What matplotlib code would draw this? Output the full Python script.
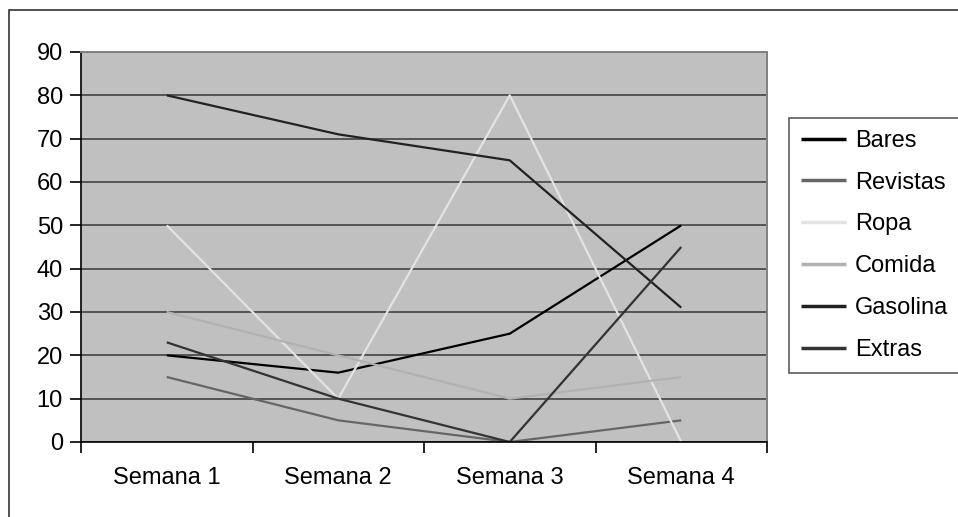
import matplotlib
matplotlib.use('Agg')
import matplotlib.pyplot as plt
from matplotlib.patches import Rectangle

plt.rcParams['font.family'] = ['Liberation Sans', 'DejaVu Sans']

# weekly spending per category
weeks = ['Semana 1', 'Semana 2', 'Semana 3', 'Semana 4']
bares = [20, 16, 25, 50]
revistas = [15, 5, 0, 5]
ropa = [50, 10, 80, 0]
comida = [30, 20, 10, 15]
gasolina = [80, 71, 65, 31]
extras = [23, 10, 0, 45]

series = [
    ('Bares', bares, '#000000'),
    ('Revistas', revistas, '#666666'),
    ('Ropa', ropa, '#e3e3e3'),
    ('Comida', comida, '#b2b2b2'),
    ('Gasolina', gasolina, '#222222'),
    ('Extras', extras, '#333333'),
]

W, H = 958, 517
FS = 17
fig = plt.figure(figsize=(W / 100, H / 100), dpi=100)

# outer chart frame (runs off the right and bottom edges)
fig.patches.append(Rectangle((9 / W, -0.1), 1.2, 1 - 10 / H + 0.1,
                             transform=fig.transFigure, fill=False,
                             edgecolor='#333333', linewidth=1.2))

ax = fig.add_axes([81 / W, (H - 442) / H, 686 / W, 390 / H])
ax.set_facecolor('#c0c0c0')

x = range(len(weeks))
for name, vals, col in series:
    ax.plot(x, vals, color=col, linewidth=1.6, label=name, solid_capstyle='butt')

ax.set_xlim(-0.5, len(weeks) - 0.5)
ax.set_ylim(0, 90)
ax.set_yticks(range(0, 91, 10))
ax.yaxis.grid(True, color='#555555', linewidth=1.4)
ax.set_axisbelow(True)

# category boundaries get the tick marks, names sit between them
ax.set_xticks([i - 0.5 for i in range(len(weeks) + 1)])
ax.set_xticklabels([])
ax.set_xticks(list(x), minor=True)
ax.set_xticklabels(weeks, minor=True)
ax.tick_params(axis='x', which='minor', length=0, pad=18, labelsize=FS)
ax.tick_params(axis='x', which='major', length=8, width=1.2, direction='out')
ax.tick_params(axis='y', length=8, width=1.2, pad=5, labelsize=FS)

for side in ['top', 'right']:
    ax.spines[side].set_color('#808080')
    ax.spines[side].set_linewidth(1.4)
for side in ['left', 'bottom']:
    ax.spines[side].set_color('#000000')
    ax.spines[side].set_linewidth(1.2)

leg = fig.legend(loc='upper left', bbox_to_anchor=(789 / W, 1 - 118 / H),
                 fontsize=FS, frameon=True, fancybox=False, edgecolor='#333333',
                 handlelength=1.9, handletextpad=0.4, labelspacing=0.84,
                 borderpad=0.5, borderaxespad=0)
leg.get_frame().set_linewidth(1.2)
for line in leg.get_lines():
    line.set_linewidth(2.5)

fig.savefig('out.png', dpi=100)
